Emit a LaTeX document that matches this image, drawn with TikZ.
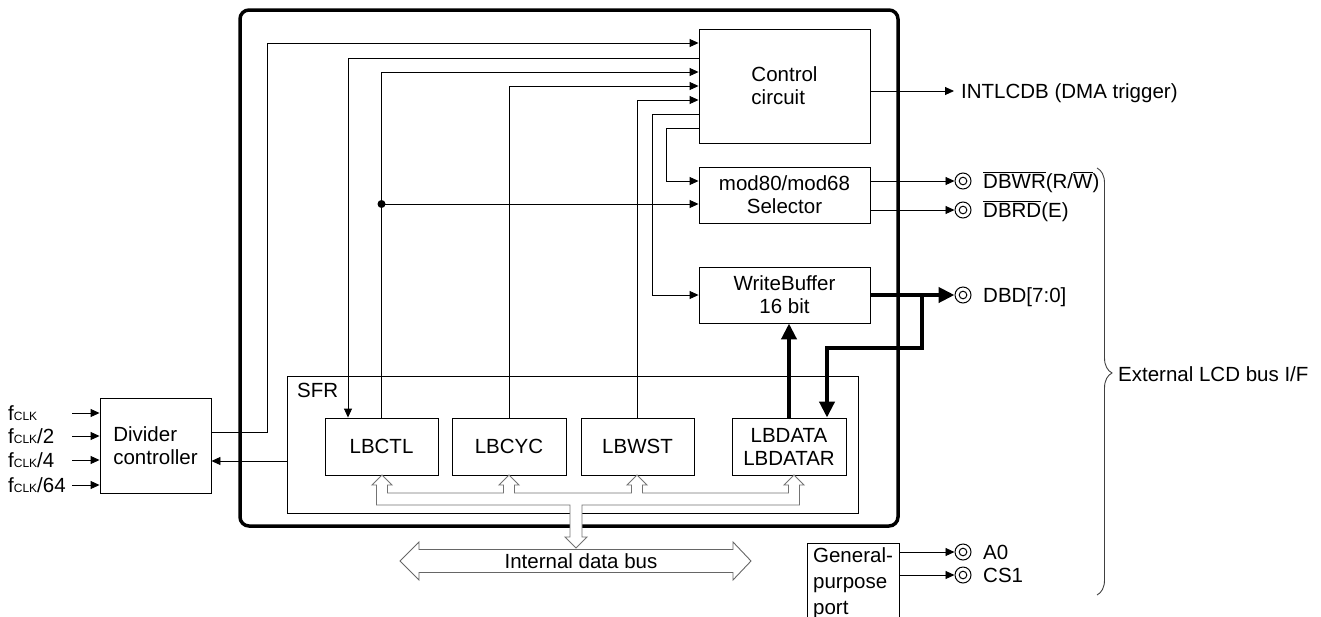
\documentclass[tikz,border=0pt]{standalone}
\usepackage{fontspec}
\setmainfont{Liberation Sans}
\usetikzlibrary{arrows.meta, positioning, calc, decorations.pathreplacing}

\newcommand{\ovl}[1]{$\overline{\hbox{#1}}$}
\newcommand{\fclk}{f{\fontsize{12}{12}\selectfont CLK}}

\tikzset{
  box/.style={draw, rectangle, inner sep=0pt, line width=0.9pt},
  sig/.style={-{Triangle[length=9pt,width=8pt]}, line width=0.9pt},
  thk/.style={-{Triangle[length=16pt,width=15pt]}, line width=4pt},
  extpin/.style={circle, draw, line width=1pt, minimum size=16pt, inner sep=0pt,
    path picture={\draw[line width=1pt] (path picture bounding box.center) circle (3.8pt);}},
  hbus/.style={draw=black!55, fill=white, line width=0.9pt},
}

\begin{document}
\begin{tikzpicture}[x=1pt, y=-1pt, font=\fontsize{20.5}{23}\selectfont]
\useasboundingbox (0,0) rectangle (1321,616);

% LCD bus controller
\draw[line width=3.5pt, rounded corners=9pt] (240,10) rectangle (898,526);

\node[box, minimum width=171pt, minimum height=114pt, align=left] (ctl) at (784.5,86) {Control\\circuit};
\node[box, minimum width=171pt, minimum height=56pt, align=center] (sel) at (784.5,195) {mod80/mod68\\Selector};
\node[box, minimum width=171pt, minimum height=56pt, align=center] (wbuf) at (784.5,295) {WriteBuffer\\16 bit};

% SFR block
\node[box, minimum width=571pt, minimum height=137pt] (sfr) at (572.5,444.5) {};
\node[anchor=base west, inner sep=0pt] (sfrlbl) at (297,397) {SFR};
\node[box, minimum width=113pt, minimum height=57pt] (lbctl) at (381.5,446.5) {LBCTL};
\node[box, minimum width=114pt, minimum height=57pt] (lbcyc) at (509,446.5) {LBCYC};
\node[box, minimum width=113pt, minimum height=57pt] (lbwst) at (637.5,446.5) {LBWST};
\node[box, minimum width=114pt, minimum height=57pt, align=center] (lbdata) at (789,446.5) {LBDATA\\LBDATAR};

% divider and clock inputs
\node[box, minimum width=111pt, minimum height=95pt, align=left] (div) at (155.5,445.5) {Divider\\controller};
\foreach \y/\lab [count=\i] in {413/{}, 436/{/2}, 460/{/4}, 485/{/64}} {
  \node[anchor=west, inner sep=0pt] (fin\i) at (8,\y) {\fclk\lab};
  \coordinate (fsrc\i) at (72,\y);
  \draw[sig] (fsrc\i) -- (div.west |- fsrc\i);
}
\draw[sig] (div.east |- 0,432) -| (267,43) -- (ctl.west |- 0,43);
\draw[sig] (sfr.west |- 0,461) -- (div.east |- 0,461);

% control lines
\draw[sig] (ctl.west |- 0,58) -| (lbctl.north -| 348,0);
\draw[sig] (lbctl.north) |- (ctl.west |- 0,72);
\draw[sig] (lbcyc.north) |- (ctl.west |- 0,86);
\draw[sig] (lbwst.north) |- (ctl.west |- 0,100);
\draw[sig] (ctl.west |- 0,114) -| (652,295) -- (wbuf.west);
\draw[sig] (ctl.west |- 0,128) -| (666,181) -- (sel.west |- 0,181);
\coordinate (jct) at (lbctl.north |- 0,204);
\fill (jct) circle (4pt);
\draw[sig] (jct) -- (sel.west |- jct);

% external pins
\node[extpin] (pwr) at (963,181) {};
\node[extpin] (prd) at (963,210) {};
\node[extpin] (pdbd) at (963,295) {};
\node[extpin] (pa0) at (963,552) {};
\node[extpin] (pcs) at (963,575) {};
\node[anchor=base west, inner sep=0pt] (lint) at (961,98) {INTLCDB (DMA trigger)};
\node[anchor=base west, inner sep=0pt] (lwr) at (983,188) {\ovl{DBWR}(R/\ovl{W})};
\node[anchor=base west, inner sep=0pt] (lrd) at (983,217) {\ovl{DBRD}(E)};
\node[anchor=base west, inner sep=0pt] (ldbd) at (983,302) {DBD[7:0]};
\node[anchor=base west, inner sep=0pt] (la0) at (983,559) {A0};
\node[anchor=base west, inner sep=0pt] (lcs) at (983,582) {CS1};

\draw[sig] (ctl.east |- 0,91) -- (954,91);
\draw[sig] (sel.east |- pwr) -- (pwr);
\draw[sig] (sel.east |- prd) -- (prd);

% write data path
\coordinate (brk) at (922,295);
\draw[thk] (wbuf.east) -- (pdbd);
\draw[thk] (brk) |- (827,348) -- (lbdata.north -| 827,0);
\draw[thk] (lbdata.north) -- (lbdata.north |- wbuf.south);

% general-purpose port
\node[box, minimum width=92pt, minimum height=80pt, align=left, font=\fontsize{20.5}{26}\selectfont] (gport) at (853,583) {General-\\purpose\\port};
\draw[sig] (gport.east |- pa0) -- (pa0);
\draw[sig] (gport.east |- pcs) -- (pcs);

% internal data bus
\draw[draw=black!60, line width=0.9pt] (400,561) -- (419,542) -- (419,549.5) -- (733,549.5) -- (733,542)
  -- (751,561) -- (733,580) -- (733,572.5) -- (419,572.5) -- (419,580) -- cycle;
\node (ibus) at (581,561) {Internal data bus};
\draw[hbus] (570,505) -- (376.5,505) -- (376.5,485) -- (372,485) -- (382,475) -- (392,485) -- (387.5,485) -- (387.5,493)
  -- (503.5,493) -- (503.5,485) -- (499,485) -- (509,475) -- (519,485) -- (514.5,485) -- (514.5,493)
  -- (631.5,493) -- (631.5,485) -- (627,485) -- (637,475) -- (647,485) -- (642.5,485) -- (642.5,493)
  -- (788.5,493) -- (788.5,485) -- (784,485) -- (794,475) -- (804,485) -- (799.5,485) -- (799.5,505)
  -- (582,505) -- (582,537) -- (587,537) -- (576,548) -- (565,537) -- (570,537) -- cycle;

% external bus brace
\draw[decorate, decoration={brace, amplitude=15pt, aspect=0.48}, line width=0.9pt, black!75] (1097,168) -- (1097,595);
\node[anchor=west, inner sep=0pt] (lext) at (1118,374) {External LCD bus I/F};
\end{tikzpicture}
\end{document}
